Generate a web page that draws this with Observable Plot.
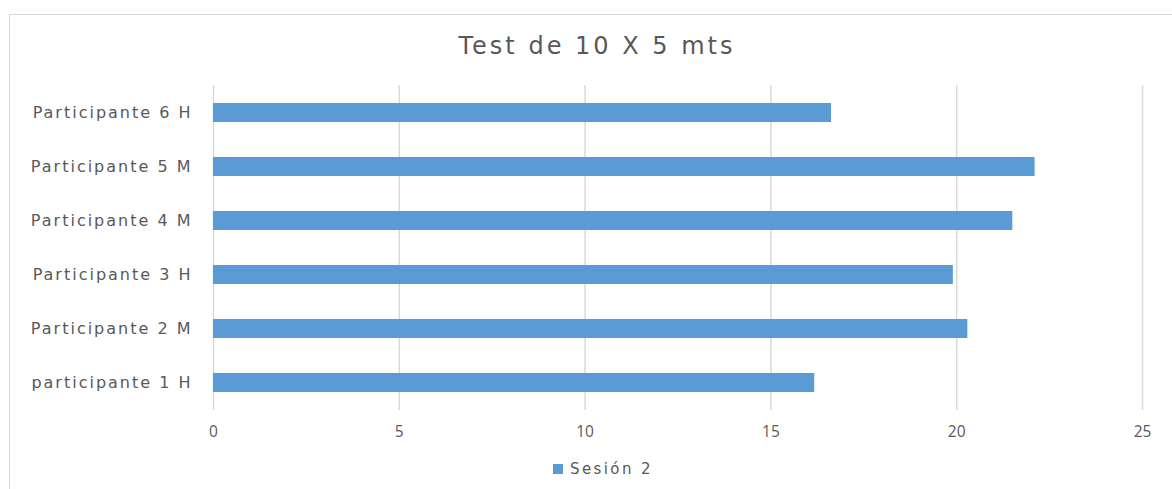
<!DOCTYPE html>
<html>
<head>
<meta charset="utf-8">
<script src="https://cdn.jsdelivr.net/npm/d3@7"></script>
<script src="https://cdn.jsdelivr.net/npm/@observablehq/plot@0.6"></script>
<style>
  html, body { margin: 0; padding: 0; background: #fff; }
  #wrap { position: relative; width: 1172px; height: 489px; overflow: hidden; font-family: "DejaVu Sans", sans-serif; }
  #frame { position: absolute; left: 9px; top: 14px; width: 1200px; height: 520px; border: 1px solid #d9d9d9; box-sizing: border-box; }
  #title { position: absolute; left: 0; width: 1194px; top: 32px; text-align: center; font-size: 24px; color: #595959; letter-spacing: 3px; }
  #chart { position: absolute; left: 0; top: 0; }
  #legend { position: absolute; left: 553px; top: 460px; font-size: 15px; color: #595959; display: flex; align-items: center; letter-spacing: 2.4px; }
  #legend .sw { width: 10px; height: 10px; background: #5b9bd5; margin-right: 7px; }
  #chart svg g[aria-label="y-axis tick label"] text { letter-spacing: 2px; }
</style>
</head>
<body>
<div id="wrap">
  <div id="frame"></div>
  <div id="title">Test de 10 X 5 mts</div>
  <div id="chart"></div>
  <div id="legend"><span class="sw"></span><span>Sesión 2</span></div>
</div>
<script>
const participants = ["participante 1 H", "Participante 2 M", "Participante 3 H", "Participante 4 M", "Participante 5 M", "Participante 6 H"];
const session2 = [16.18, 20.30, 19.91, 21.51, 22.11, 16.63];
const xTicks = [0, 5, 10, 15, 20, 25];
const seriesName = "Sesión 2";

const data = participants.map((p, i) => ({participant: p, value: session2[i], series: seriesName}));

const chart = Plot.plot({
  width: 1172,
  height: 450,
  marginTop: 85,
  marginBottom: 40,
  marginLeft: 213,
  marginRight: 30,
  style: {fontFamily: "DejaVu Sans, sans-serif", fontSize: "15px", color: "#595959", background: "transparent"},
  x: {domain: [0, 25], ticks: xTicks, label: null},
  y: {domain: participants.slice().reverse(), paddingInner: 0.65, paddingOuter: 0.325, label: null},
  marks: [
    Plot.gridX(xTicks, {stroke: "#d9d9d9", strokeOpacity: 1, strokeWidth: 1.5}),
    Plot.barX(data, {x: "value", y: "participant", fill: "#5b9bd5"}),
    Plot.axisX(xTicks, {tickSize: 0, tickPadding: 15, fontSize: 15.5, fontFamily: "Open Sans, sans-serif", fill: "#595959", label: null}),
    Plot.axisY({tickSize: 0, tickPadding: 21, fontSize: 16, fill: "#595959", label: null})
  ]
});
document.getElementById("chart").appendChild(chart);
</script>
</body>
</html>
